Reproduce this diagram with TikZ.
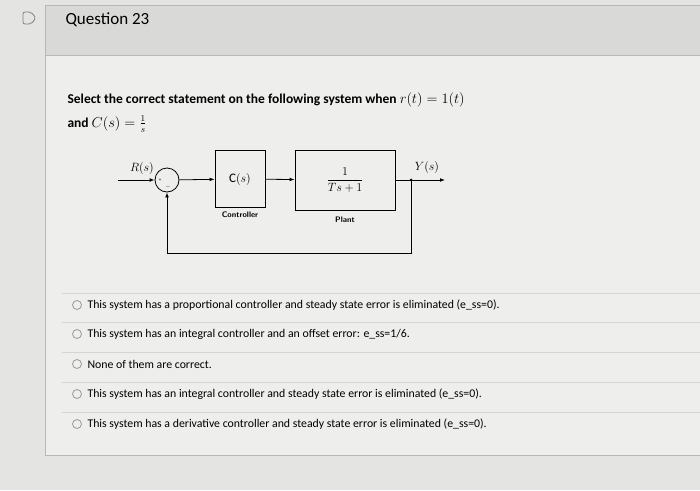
\documentclass[tikz,border=0pt]{standalone}
\usepackage{amsmath}
\usepackage{fontspec}
\setmainfont{Carlito}
\usetikzlibrary{arrows.meta}
\definecolor{pagebg}{HTML}{E4E4E2}
\definecolor{panelbg}{HTML}{EEEEEC}
\definecolor{headbg}{HTML}{D9D9D7}
\definecolor{rulegray}{HTML}{B8B8B6}
\begin{document}
\begin{tikzpicture}[x=1pt,y=-1pt,
    block/.style={draw,thick,fill=panelbg,inner sep=0pt,font=\fontsize{13}{15}\selectfont},
    sumnode/.style={draw,thick,circle,minimum size=24pt,inner sep=0pt},
    sig/.style={thick,-{Latex[length=5pt]}},
    smalllabel/.style={font=\fontsize{8}{9}\selectfont\sffamily\bfseries},
    option/.style={anchor=west,font=\fontsize{11.8}{13}\selectfont},
    radio/.style={draw=gray!80,thick,circle,minimum size=9pt,inner sep=0pt}]
  \useasboundingbox (0,0) rectangle (700,490);
  \fill[pagebg] (0,0) rectangle (700,490);
  \fill[panelbg] (45,55) rectangle (700,455);
  \fill[headbg] (45,5) rectangle (700,55);
  \draw[rulegray,thick] (45,5) -- (45,455) -- (700,455);
  \draw[rulegray,thick] (45,5) -- (700,5);
  \draw[rulegray,thick] (45,55) -- (700,55);
  % flag icon
  \draw[gray,thick,rounded corners=2pt] (23,12) -- (31,12) -- (36,18) -- (31,24) -- (23,24) -- cycle;
  \node[anchor=west,font=\fontsize{17}{19}\selectfont] (title) at (62,20) {Question 23};
  \node[anchor=west,font=\bfseries\fontsize{13.5}{15}\selectfont] (q1) at (64,100)
    {Select the correct statement on the following system when $r(t)=1(t)$};
  \node[anchor=west,font=\bfseries\fontsize{13.5}{15}\selectfont] (q2) at (64,124)
    {and $C(s)=\frac{1}{s}$};
  % block diagram
  \node[sumnode] (sum) at (167,180) {};
  \node[font=\tiny] at (160,180) {+};
  \node[font=\tiny] at (168,187) {$-$};
  \node[block,minimum width=50pt,minimum height=57pt] (ctrl) at (240,179) {C$(s)$};
  \node[block,minimum width=100pt,minimum height=60pt] (plant) at (345,180) {$\dfrac{1}{Ts+1}$};
  \node[smalllabel,below=0pt] (ctrllbl) at (ctrl.south) {Controller};
  \node[smalllabel,below=3pt] (plantlbl) at (plant.south) {Plant};
  \coordinate (rin) at (118,180);
  \coordinate (branch) at (411,180);
  \coordinate (yout) at (445,180);
  \coordinate (fbr) at (411,253);
  \coordinate (fbl) at (167,253);
  \node[anchor=south east,inner sep=1pt,font=\fontsize{13}{15}\selectfont] (rlbl) at (155,176) {$R(s)$};
  \node[anchor=south,inner sep=2pt,font=\fontsize{13}{15}\selectfont] (ylbl) at (427,176) {$Y(s)$};
  \draw[sig] (rin) -- (sum);
  \draw[sig] (sum) -- (ctrl);
  \draw[sig] (ctrl) -- (plant);
  \draw[sig] (plant.east) -- (yout);
  \fill (branch) circle (1.5pt);
  \draw[sig] (branch) -- (fbr) -- (fbl) -- (sum);
  % answer options
  \foreach \y in {293,322,352,382,412} \draw[rulegray!60] (62,\y) -- (700,\y);
  \foreach \y/\txt [count=\i] in {
      305/{This system has a proportional controller and steady state error is eliminated (e\_ss=0).},
      334/{This system has an integral controller and an offset error: e\_ss=1/6.},
      364/{None of them are correct.},
      394/{This system has an integral controller and steady state error is eliminated (e\_ss=0).},
      424/{This system has a derivative controller and steady state error is eliminated (e\_ss=0).}} {
    \node[radio] (r\i) at (77,\y) {};
    \node[option] (opt\i) at (84,\y) {\txt};
  }
\end{tikzpicture}
\end{document}
